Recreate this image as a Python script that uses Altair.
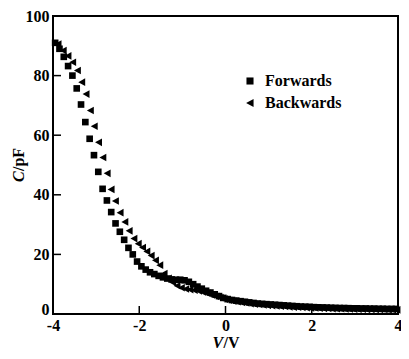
import altair as alt
import pandas as pd

# Forwards (squares)
fwd_v = [-3.95, -3.85, -3.75, -3.65, -3.55, -3.45, -3.35, -3.25, -3.15, -3.05,
         -2.95, -2.85, -2.75, -2.65, -2.55, -2.45, -2.35, -2.25, -2.15, -2.05,
         -1.95, -1.85, -1.75, -1.65, -1.55, -1.45, -1.35, -1.25, -1.15, -1.05,
         -0.95, -0.85, -0.75, -0.65, -0.55, -0.45, -0.35, -0.25, -0.15, -0.05,
         0.05, 0.15, 0.25, 0.35, 0.45, 0.55, 0.65, 0.75, 0.85, 0.95,
         1.05, 1.15, 1.25, 1.35, 1.45, 1.55, 1.65, 1.75, 1.85, 1.95,
         2.05, 2.15, 2.25, 2.35, 2.45, 2.55, 2.65, 2.75, 2.85, 2.95,
         3.05, 3.15, 3.25, 3.35, 3.45, 3.55, 3.65, 3.75, 3.85, 3.95]
fwd_c = [91.0, 89.0, 86.3, 83.2, 80.0, 75.7, 70.3, 64.4, 58.8, 53.3,
         47.7, 42.0, 38.1, 34.2, 30.4, 27.6, 24.9, 22.2, 20.0, 17.6,
         16.0, 14.9, 14.0, 13.4, 12.8, 12.3, 11.9, 11.6, 11.5, 11.5,
         11.3, 10.8, 10.0, 9.2, 8.5, 7.8, 7.2, 6.6, 6.0, 5.4,
         5.0, 4.7, 4.5, 4.3, 4.1, 3.9, 3.7, 3.5, 3.4, 3.3,
         3.2, 3.1, 3.0, 2.9, 2.8, 2.7, 2.6, 2.5, 2.45, 2.4,
         2.3, 2.25, 2.2, 2.15, 2.1, 2.05, 2.0, 2.0, 1.95, 1.9,
         1.9, 1.85, 1.85, 1.8, 1.8, 1.75, 1.75, 1.7, 1.7, 1.7]

# Backwards (triangles)
bwd_v = [-3.88, -3.76, -3.65, -3.54, -3.43, -3.33, -3.23, -3.13, -3.04, -2.94,
         -2.84, -2.74, -2.65, -2.55, -2.44, -2.33, -2.23, -2.12, -2.02, -1.92,
         -1.82, -1.72, -1.62, -1.52, -1.42,
         -1.32, -1.22, -1.12, -1.02, -0.92, -0.82, -0.72, -0.62, -0.52, -0.42,
         -0.32, -0.22, -0.12, -0.02, 0.08, 0.18, 0.28, 0.38, 0.48, 0.58,
         0.68, 0.78, 0.88, 0.98, 1.08, 1.18, 1.28, 1.38, 1.48, 1.58,
         1.68, 1.78, 1.88, 1.98, 2.08, 2.18, 2.28, 2.38, 2.48, 2.58,
         2.68, 2.78, 2.88, 2.98, 3.08, 3.18, 3.28, 3.38, 3.48, 3.58,
         3.68, 3.78, 3.88, 3.98]
bwd_c = [90.6, 88.4, 86.6, 84.5, 81.7, 77.8, 73.8, 68.3, 63.0, 57.6,
         52.5, 47.2, 41.8, 37.9, 34.0, 30.9, 27.9, 25.3, 23.6, 22.3,
         21.0, 19.6, 18.0, 16.4, 13.6,
         12.0, 10.6, 9.5, 8.8, 8.4, 8.2, 8.0, 7.7, 7.3, 6.9,
         6.4, 5.9, 5.5, 5.0, 4.6, 4.3, 4.1, 3.9, 3.7, 3.5,
         3.3, 3.2, 3.0, 2.9, 2.8, 2.7, 2.6, 2.5, 2.4, 2.3,
         2.25, 2.2, 2.1, 2.05, 2.0, 1.95, 1.9, 1.85, 1.8, 1.8,
         1.75, 1.7, 1.7, 1.65, 1.6, 1.6, 1.55, 1.55, 1.5, 1.5,
         1.5, 1.45, 1.45, 1.4]

series_names = ["Forwards", "Backwards"]
x_ticks = [-4, -2, 0, 2, 4]
y_ticks = [0, 20, 40, 60, 80, 100]

W, H = 345, 298
FONT = "Liberation Serif"

df = pd.concat([
    pd.DataFrame({"V": fwd_v, "C": fwd_c, "series": series_names[0]}),
    pd.DataFrame({"V": bwd_v, "C": bwd_c, "series": series_names[1]}),
])

xscale = alt.Scale(domain=[-4, 4], nice=False, zero=False)
yscale = alt.Scale(domain=[0, 100], nice=False)

tri_left = "M1,-1.15L-1.1,0L1,1.15Z"

points = alt.Chart(df).mark_point(filled=True, opacity=1, strokeWidth=0, size=44).encode(
    x=alt.X("V:Q", scale=xscale,
            axis=alt.Axis(values=x_ticks, title=None, labelExpr="'' + datum.value",
                          labelPadding=3, labelFlush=False)),
    y=alt.Y("C:Q", scale=yscale,
            axis=alt.Axis(values=y_ticks, title=None, labelPadding=4,
                          labelOffset={"condition": {"test": "datum.value == 0", "value": -5},
                                       "value": 0})),
    shape=alt.Shape("series:N",
                    scale=alt.Scale(domain=series_names, range=["square", tri_left]),
                    legend=alt.Legend(title=None, orient="none", legendX=189, legendY=57,
                                      labelFont=FONT, labelFontSize=16, labelFontWeight="bold",
                                      labelColor="black", symbolFillColor="black",
                                      symbolStrokeWidth=0, symbolSize=50, labelOffset=7,
                                      rowPadding=6, padding=0)),
    color=alt.value("black"),
)

xt = alt.Chart(pd.DataFrame({"t": x_ticks})).mark_rule(color="black", strokeWidth=1.5).encode(
    x=alt.X("t:Q", scale=xscale), y=alt.value(H), y2=alt.value(H - 8))
yt = alt.Chart(pd.DataFrame({"t": y_ticks})).mark_rule(color="black", strokeWidth=1.5).encode(
    y=alt.Y("t:Q", scale=yscale), x=alt.value(0), x2=alt.value(8))

base_txt = dict(font=FONT, fontSize=16, fontWeight="bold", color="black", baseline="middle")
ytitle_c = alt.Chart(pd.DataFrame({"s": ["C"]})).mark_text(
    align="left", angle=270, fontStyle="italic", **base_txt).encode(
    text="s:N", x=alt.value(-34), y=alt.value(H / 2 + 17))
ytitle_u = alt.Chart(pd.DataFrame({"s": ["/pF"]})).mark_text(
    align="left", angle=270, **base_txt).encode(
    text="s:N", x=alt.value(-34), y=alt.value(H / 2 + 17 - 11))
xtitle_v = alt.Chart(pd.DataFrame({"s": ["V"]})).mark_text(
    align="left", fontStyle="italic", **base_txt).encode(
    text="s:N", x=alt.value(W / 2 - 13), y=alt.value(H + 29))
xtitle_u = alt.Chart(pd.DataFrame({"s": ["/V"]})).mark_text(
    align="left", **base_txt).encode(
    text="s:N", x=alt.value(W / 2 - 13 + 11), y=alt.value(H + 29))

chart = alt.layer(points, xt, yt, ytitle_c, ytitle_u, xtitle_v, xtitle_u).properties(
    width=W, height=H,
    autosize=alt.AutoSizeParams(type="none"),
    padding={"left": 45, "top": 8, "right": 3, "bottom": 37},
).configure_view(stroke="black", strokeWidth=2).configure_axis(
    domain=False, ticks=False, grid=False,
    labelFont=FONT, labelFontSize=16, labelFontWeight="bold", labelColor="black",
)

chart.save("out.html", embed_options={"renderer": "svg", "actions": False})
